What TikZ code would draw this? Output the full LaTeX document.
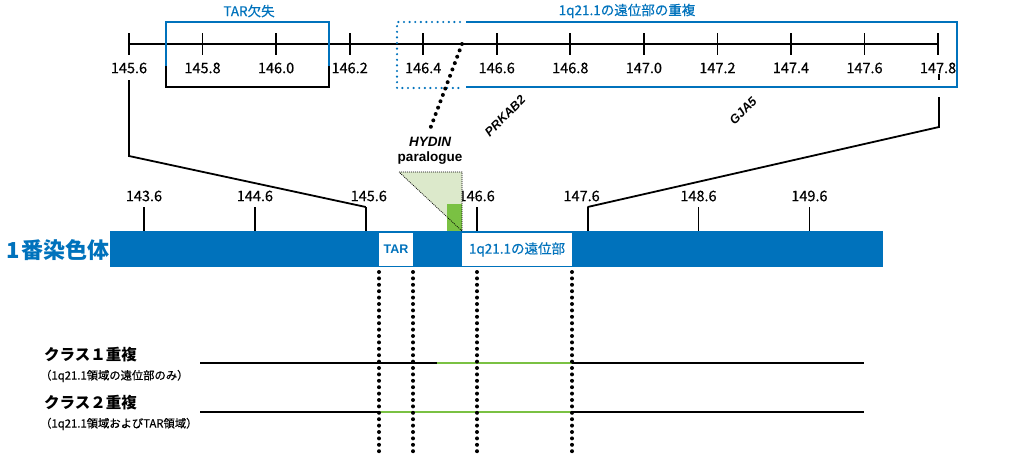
\documentclass[tikz,border=0pt]{standalone}
\usepackage{fontspec}
\setmainfont{Noto Sans CJK JP}
\newfontfamily\medfont{Noto Sans CJK JP}[FakeBold=0.5]
\newfontfamily\latinsans{Liberation Sans}
\usetikzlibrary{calc}
\definecolor{chrblue}{RGB}{0,114,188}
\definecolor{lgreen}{RGB}{220,233,203}
\definecolor{mgreen}{RGB}{122,193,67}
\tikzset{
  ln/.style={line width=1.8pt, black},
  num/.style={font=\medfont\fontsize{14.5}{16}\selectfont, inner sep=0pt},
  bluelbl/.style={font=\medfont\fontsize{13.5}{15}\selectfont, text=chrblue, inner sep=0pt},
  gene/.style={font=\latinsans\bfseries\itshape\fontsize{12.5}{14}\selectfont, inner sep=0pt},
  dots/.style={line width=4pt, dash pattern=on 0pt off 6.4pt, line cap=round, black},
  bdots/.style={line width=2.4pt, dash pattern=on 0pt off 5.6pt, line cap=round, chrblue},
  tridots/.style={line width=0.7pt, dash pattern=on 1pt off 1pt, black},
  whitebox/.style={fill=white, inner sep=0pt, minimum height=33pt},
  classlbl/.style={font=\bfseries\fontsize{15.5}{17}\selectfont, inner sep=0pt, anchor=west},
  sublbl/.style={font=\medfont\fontsize{11.3}{13}\selectfont, inner sep=0pt, anchor=west},
}
\begin{document}
\begin{tikzpicture}[x=1pt,y=-1pt]
\useasboundingbox (0,0) rectangle (1024,458);

% ---------- top (zoomed) axis ----------
\draw[ln] (129,44) -- (939,44);
\foreach \v [count=\i from 0] in {145.6,145.8,146.0,146.2,146.4,146.6,146.8,147.0,147.2,147.4,147.6,147.8} {
  \pgfmathsetmacro{\xx}{129+\i*73.55}
  \draw[ln] (\xx,33) -- (\xx,55);
  \node[num] (ta\i) at (\xx,68) {\v};
}

% TAR deletion box
\draw[chrblue, line width=2pt] (166,66) -- (166,22) -- (329,22) -- (329,66);
\draw[black, line width=2pt] (166,66) -- (166,87) -- (329,87) -- (329,66);
\node[bluelbl] (tarlbl) at (249,11) {TAR欠失};

% distal duplication box
\draw[chrblue, line width=2pt] (466,22) -- (957,22) -- (957,87) -- (466,87);
\draw[bdots] (460,22) -- (397,22) -- (397,88) -- (460,88);
\node[bluelbl] (duplbl) at (627,11) {1q21.1の遠位部の重複};

% HYDIN paralogue
\coordinate (hydtop) at (462,44);
\node[font=\latinsans\bfseries\itshape\fontsize{13.5}{15}\selectfont, inner sep=0pt] (hydin) at (430,142) {HYDIN};
\node[font=\latinsans\bfseries\fontsize{13.5}{15}\selectfont, inner sep=0pt] (paral) at (430,158) {paralogue};
\draw[dots, dash pattern=on 0pt off 6.8pt] (hydtop) -- ($(hydin.north)+(0,-8)$);

% genes
\node[gene, rotate=45] (prkab2) at (505,116) {PRKAB2};
\node[gene, rotate=45] (gja5) at (743,111) {GJA5};

% ---------- chromosome bar ----------
\fill[chrblue] (110,231) rectangle (883,267);
\node[font=\bfseries\fontsize{22}{24}\selectfont, text=chrblue, inner sep=0pt] (chr) at (58,250) {1\hspace{2pt}番染色体};

\foreach \v [count=\j from 0] in {143.6,144.6,145.6,146.6,147.6,148.6,149.6} {
  \pgfmathsetmacro{\xx}{144+\j*110.9}
  \coordinate (bt\j) at (\xx,207);
  \draw[ln] (\xx,207) -- (\xx,231);
}
\foreach \v [count=\j from 0] in {143.6,144.6,145.6,146.6,147.6,148.6,149.6} {
  \pgfmathsetmacro{\xx}{144+\j*110.9+(\j==4?-6:0)+(\j==2?3:0)}
  \node[num] (bl\j) at (\xx,196) {\v};
}

% triangle (HYDIN)
\coordinate (tA) at (399,172);
\coordinate (tB) at (462,172);
\coordinate (tC) at (462,231);
\fill[lgreen] (tA) -- (tB) -- (tC) -- cycle;
\fill[mgreen] (447,204) rectangle (462,231);
\draw[tridots] (tA) -- (tB) -- (tC) -- cycle;

% white boxes
\node[whitebox, minimum width=34pt, font=\latinsans\bfseries\fontsize{12.5}{14}\selectfont, text=chrblue] (tarbox) at (396,249.5) {TAR};
\node[whitebox, minimum width=110pt, font=\medfont\fontsize{13.5}{15}\selectfont, text=chrblue] (distbox) at (517,249.5) {1q21.1の遠位部};

% connectors from zoom to chromosome
\coordinate (lc1) at (129,80);
\coordinate (lc2) at (129,156);
\draw[ln, line join=miter] (lc1) -- (lc2) -- (bt2);
\coordinate (rc1) at (939,97);
\coordinate (rc2) at (939,127);
\draw[ln, line join=miter] (rc1) -- (rc2) -- (bt4);
\coordinate (rd1) at (939,74);
\coordinate (rd2) at (939,80);
\draw[ln] (rd1) -- (rd2);

% ---------- classes ----------
\coordinate (c1a) at (200,363);
\coordinate (c1b) at (437,363);
\coordinate (c1c) at (572,363);
\coordinate (c1d) at (864,363);
\coordinate (c2a) at (200,412);
\coordinate (c2b) at (379,412);
\coordinate (c2c) at (572,412);
\coordinate (c2d) at (864,412);
\draw[ln] (c1a) -- (c1b);
\draw[mgreen, line width=1.8pt] (c1b) -- (c1c);
\draw[ln] (c1c) -- (c1d);
\draw[ln] (c2a) -- (c2b);
\draw[mgreen, line width=1.8pt] (c2b) -- (c2c);
\draw[ln] (c2c) -- (c2d);

% dotted guide lines
\coordinate (g1) at (379,272);
\coordinate (g2) at (413,272);
\coordinate (g3) at (477,272);
\coordinate (g4) at (572,272);
\foreach \g in {g1,g2,g3,g4} {
  \draw[dots] (\g) -- ++(0,182);
}

\node[classlbl] (cl1) at (44,355) {クラス１重複};
\node[sublbl] (cs1) at (40,376) {（1q21.1領域の遠位部のみ）};
\node[classlbl] (cl2) at (44,403) {クラス２重複};
\node[sublbl] (cs2) at (40,424) {（1q21.1領域およびTAR領域）};
\end{tikzpicture}
\end{document}
